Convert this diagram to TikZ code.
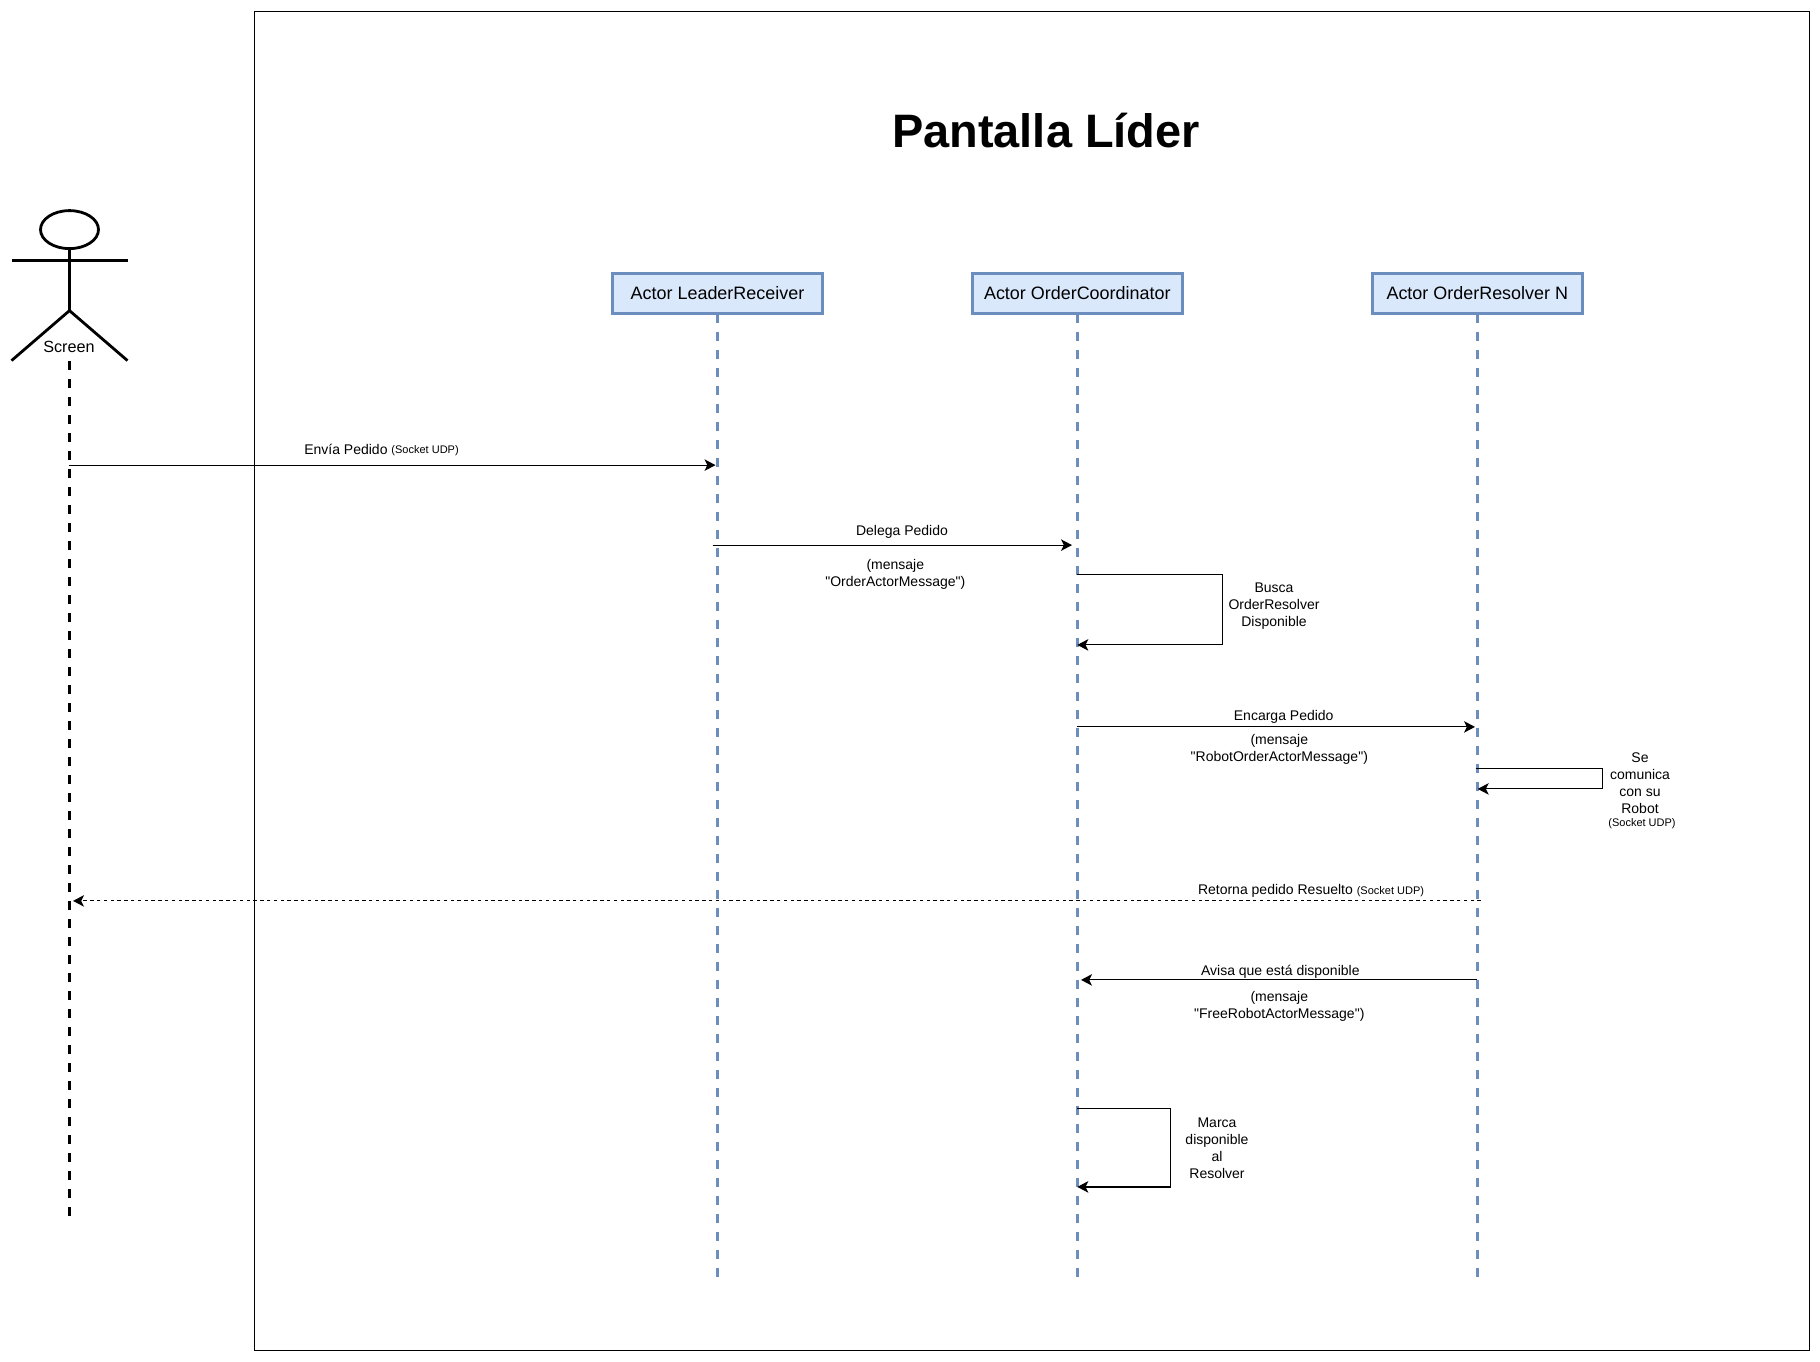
\documentclass[tikz,border=0pt]{standalone}
\usepackage{fontspec}
\setmainfont{Liberation Sans}
\newfontfamily\plainf{Liberation Sans}
\usetikzlibrary{arrows.meta,shapes.geometric}
\definecolor{boxedge}{HTML}{6C8EBF}
\definecolor{boxfill}{HTML}{DAE8FC}
\tikzset{
  x=1pt,y=-1pt,
  thinline/.style={line width=1.16pt,draw=black},
  msg/.style={thinline,-{Stealth[length=11pt,width=11.5pt,inset=2.8pt]}},
  retmsg/.style={msg,dash pattern=on 3.4pt off 3.4pt},
  actorbox/.style={rectangle,draw=boxedge,fill=boxfill,line width=2.8pt,minimum width=210.4pt,minimum height=40.6pt,inner sep=0pt,outer sep=0pt,font=\plainf\fontsize{17.95pt}{22pt}\selectfont},
  life/.style={draw=boxedge,line width=2.7pt,dash pattern=on 9pt off 9pt},
  figure/.style={line width=2.8pt,draw=black},
  lab/.style={inner sep=0pt,outer sep=0pt,align=center,font=\plainf\fontsize{14pt}{17pt}\selectfont},
}
\newcommand{\smalludp}{{\fontsize{11pt}{14pt}\selectfont (Socket UDP)}}
\newcommand{\raisedudp}{\raisebox{1.5pt}{\fontsize{11pt}{14pt}\selectfont (Socket UDP)}}
\begin{document}
\begin{tikzpicture}
\useasboundingbox (0,-0.6) rectangle (1820,1360.4);
\node[draw=black,line width=1.16pt,rectangle,inner sep=0pt,outer sep=0pt,minimum width=1555.2pt,minimum height=1339pt] (frame) at (1032.1,680) {};
\node[inner sep=0pt,anchor=base,font=\fontsize{46.9pt}{50pt}\selectfont\bfseries] (title) at (1046,147.2) {Pantalla Líder};

% actor
\node[draw=black,line width=2.8pt,ellipse,minimum width=58pt,minimum height=38pt,inner sep=0pt,outer sep=0pt] (head) at (69.5,229) {};
\coordinate (armL) at (11.5,260);
\coordinate (armR) at (127.5,260);
\coordinate (hip) at (69.5,310);
\coordinate (legL) at (11.5,360);
\coordinate (legR) at (127.5,360);
\coordinate (scrEnd) at (69.5,1215.5);
\coordinate (scrTop) at (69.5,360.5);
\draw[figure] (head.south) -- (hip);
\draw[figure] (armL) -- (armR);
\draw[figure] (legL) -- (hip) -- (legR);
\draw[figure,dash pattern=on 9pt off 9pt] (scrTop) -- (scrEnd);
\node[lab,font=\plainf\fontsize{16.2pt}{19pt}\selectfont] (screen) at (69,346) {Screen};

% actors
\node[actorbox] (lr) at (717.5,292.8) {Actor LeaderReceiver};
\node[actorbox] (oc) at (1077.3,292.8) {Actor OrderCoordinator};
\node[actorbox] (rs) at (1477.3,292.8) {Actor OrderResolver N};
\coordinate (lrEnd) at (717.5,1277);
\coordinate (ocEnd) at (1077.3,1277);
\coordinate (rsEnd) at (1477.3,1277);
\draw[life] (lr.south) -- (lrEnd);
\draw[life] (oc.south) -- (ocEnd);
\draw[life] (rs.south) -- (rsEnd);

% messages
\coordinate (a1s) at (69,464.5); \coordinate (a1e) at (715.5,464.5);
\draw[msg] (a1s) -- (a1e);
\node[lab] (t1) at (381.5,449.5) {Envía Pedido \raisedudp};

\coordinate (a2s) at (712.5,544.5); \coordinate (a2e) at (1072,544.5);
\draw[msg] (a2s) -- (a2e);
\node[lab] (t2) at (902,531.5) {Delega Pedido};
\node[lab] (t2b) at (895.3,574) {(mensaje\\"OrderActorMessage")};

\coordinate (l1a) at (1077.3,574.3); \coordinate (l1b) at (1222.3,574.3);
\coordinate (l1c) at (1222.3,644.3); \coordinate (l1d) at (1077.3,644.3);
\draw[msg] (l1a) -- (l1b) -- (l1c) -- (l1d);
\node[lab] (t3) at (1274,606) {Busca\\OrderResolver\\Disponible};

\coordinate (a3s) at (1076.7,726.3); \coordinate (a3e) at (1475,726.3);
\draw[msg] (a3s) -- (a3e);
\node[lab] (t4) at (1283.7,716.5) {Encarga Pedido};
\node[lab] (t4b) at (1279.3,749) {(mensaje\\"RobotOrderActorMessage")};

\coordinate (l2a) at (1475.7,768.3); \coordinate (l2b) at (1602.3,768.3);
\coordinate (l2c) at (1602.3,788.3); \coordinate (l2d) at (1477.7,788.3);
\draw[msg] (l2a) -- (l2b) -- (l2c) -- (l2d);
\node[lab] (t5) at (1640,783) {Se\\comunica\\con su\\Robot};
\node[lab] (t5b) at (1642,823) {\smalludp};

\coordinate (r1s) at (1480.7,900.3); \coordinate (r1e) at (73,900.3);
\draw[retmsg] (r1s) -- (r1e);
\node[lab] (t6) at (1311,890.5) {Retorna pedido Resuelto \raisebox{0.7pt}{\smalludp}};

\coordinate (a4s) at (1477.3,979.3); \coordinate (a4e) at (1081,979.3);
\draw[msg] (a4s) -- (a4e);
\node[lab] (t7) at (1280.3,970.7) {Avisa que está disponible};
\node[lab] (t7b) at (1279.3,1006) {(mensaje\\"FreeRobotActorMessage")};

\coordinate (l3a) at (1077.3,1108.3); \coordinate (l3b) at (1170.3,1108.3);
\coordinate (l3c) at (1170.3,1186.3); \coordinate (l3d) at (1077.3,1186.3);
\draw[msg] (l3a) -- (l3b) -- (l3c) -- (l3d);
\node[lab] (t8) at (1217,1147.7) {Marca\\disponible\\al\\Resolver};
\end{tikzpicture}
\end{document}
